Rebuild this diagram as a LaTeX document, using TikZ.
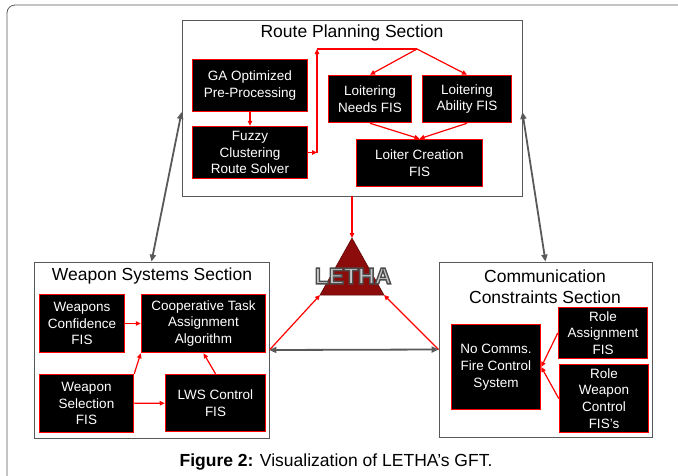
\documentclass[tikz,border=0pt]{standalone}
\usepackage{fontspec}
\setmainfont{Liberation Sans}
\usetikzlibrary{arrows.meta}
\definecolor{boxred}{RGB}{255,0,0}
\definecolor{arrowgray}{RGB}{89,89,89}
\definecolor{lethared}{RGB}{140,12,12}
\begin{document}
\begin{tikzpicture}[x=1pt, y=-1pt,
    fisbox/.style={draw=boxred, line width=1.5pt, fill=black, text=white, align=center, inner sep=0pt, font=\fontsize{13.5}{16.7}\selectfont},
    sectionbox/.style={draw=arrowgray, line width=0.8pt, fill=white},
    sectiontitle/.style={align=center, inner sep=0pt, font=\fontsize{17.5}{20.7}\selectfont},
    redline/.style={draw=boxred, line width=1.2pt},
    redarrow/.style={redline, -{Triangle[length=5pt,width=4.5pt]}},
    grayarrow/.style={draw=arrowgray, line width=1.8pt, {Triangle[length=7pt,width=6pt]}-{Triangle[length=7pt,width=6pt]}}]
    \useasboundingbox (0,0) rectangle (678,475);

    % Outer frame
    \draw[arrowgray, line width=0.8pt, rounded corners=8pt] (7,480) -- (7,5) -- (683,5);

    % Route Planning Section
    \node[sectionbox, minimum width=340, minimum height=176] (route) at (352,108) {};
    \node[sectiontitle] (routetitle) at (352,33) {Route Planning Section};
    \node[fisbox, minimum width=115, minimum height=52] (ga) at (250,85.5) {GA Optimized \\ Pre-Processing};
    \node[fisbox, minimum width=115, minimum height=52] (fuzzy) at (250,152.5) {Fuzzy \\ Clustering \\ Route Solver};
    \node[fisbox, minimum width=83, minimum height=47] (needs) at (370,99) {Loitering \\ Needs FIS};
    \node[fisbox, minimum width=89, minimum height=47] (ability) at (467,99) {Loitering \\ Ability FIS};
    \node[fisbox, minimum width=126, minimum height=47] (creation) at (419.5,163) {Loiter Creation \\ FIS};

    \coordinate (bendA) at (317,152.5);
    \coordinate (bendB) at (317,49);
    \coordinate (split) at (417,49);
    \draw[redarrow] (ga) -- (fuzzy);
    \draw[redarrow] (fuzzy.east) -- (bendA);
    \draw[redarrow] (bendA) -- (bendB);
    \draw[redline] (bendB) -- (split);
    \draw[redarrow] (split) -- (needs.north);
    \draw[redarrow] (split) -- (ability.north);
    \draw[redarrow] (needs.south) -- (creation.north);
    \draw[redarrow] (ability.south) -- (creation.north);

    % Weapon Systems Section
    \node[sectionbox, minimum width=235, minimum height=176] (weapon) at (151.5,350) {};
    \node[sectiontitle] (weapontitle) at (152,276) {Weapon Systems Section};
    \node[fisbox, minimum width=85, minimum height=58] (conf) at (82,323.5) {Weapons \\ Confidence \\ FIS};
    \node[fisbox, minimum width=124, minimum height=58] (coop) at (203.5,323.5) {Cooperative Task \\ Assignment \\ Algorithm};
    \node[fisbox, minimum width=94, minimum height=58] (sel) at (86.5,403.5) {Weapon \\ Selection \\ FIS};
    \node[fisbox, minimum width=100, minimum height=57] (lws) at (215.5,403) {LWS Control \\ FIS};

    \draw[redarrow] (conf) -- (coop);
    \draw[redarrow] (sel.north east) -- (coop.south west);
    \draw[redarrow] (sel) -- (lws);
    \draw[redarrow] (lws.north) -- (coop.south);

    % Communication Constraints Section
    \node[sectionbox, minimum width=213, minimum height=175] (comm) at (545.5,349.5) {};
    \node[sectiontitle] (commtitle) at (545,286.5) {Communication \\ Constraints Section};
    \node[fisbox, minimum width=89, minimum height=85] (nocomms) at (496,367) {No Comms. \\ Fire Control \\ System};
    \node[fisbox, minimum width=89, minimum height=51] (rolea) at (603,333) {Role \\ Assignment \\ FIS};
    \node[fisbox, minimum width=89, minimum height=68] (rolew) at (604,398.5) {Role \\ Weapon \\ Control \\ FIS's};

    \draw[redarrow] (rolea.west) -- (nocomms.east);
    \draw[redarrow] (rolew.west) -- (nocomms.east);

    % LETHA
    \coordinate (apex) at (352,238);
    \coordinate (baseL) at (320,295);
    \coordinate (baseR) at (384,295);
    \filldraw[fill=lethared, draw=lethared!60!black, line width=0.5pt] (apex) -- (baseR) -- (baseL) -- cycle;
    \node (letha) at (353,276) {\fontsize{23}{23}\selectfont\bfseries\textcolor{gray!45}{\special{pdf:literal direct 2 Tr 1.4 w 0.3 G}LETHA\special{pdf:literal direct 0 Tr}}};

    \draw[redarrow] (route.south) -- (apex);
    \draw[redarrow] (weapon.east) -- (baseL);
    \draw[redarrow] (comm.west) -- (baseR);

    % Links between sections
    \draw[grayarrow] (weapon.east) -- (comm.west);
    \draw[grayarrow] ([yshift=-4pt]route.west) -- (weapon.north);
    \draw[grayarrow] ([yshift=-4pt]route.east) -- (comm.north);

    % Caption
    \node (caption) at (336,462) {\fontsize{17.5}{20}\selectfont\textbf{Figure 2:} Visualization of LETHA's GFT.};
\end{tikzpicture}
\end{document}
